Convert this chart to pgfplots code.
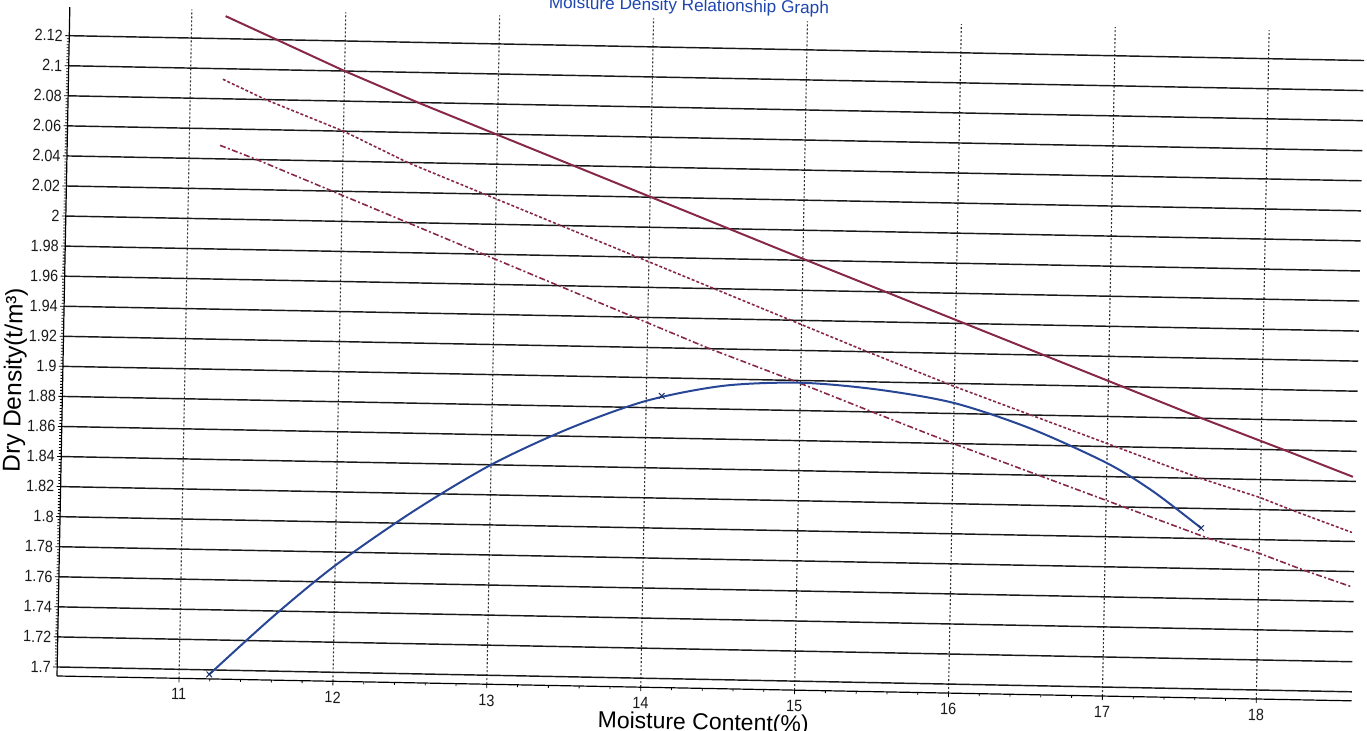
\documentclass[border=0pt]{standalone}
\usepackage{fontspec}
\setmainfont{Liberation Sans}
\newfontfamily\condfont[FakeStretch=0.88]{Liberation Sans}
\usepackage{pgfplots}
\pgfplotsset{compat=1.18}
\definecolor{zav}{RGB}{135,40,70}
\definecolor{mdd}{RGB}{40,70,150}
\definecolor{ttl}{RGB}{30,70,175}
\begin{document}
\begin{tikzpicture}
\begin{scope}[rotate=-1.1, transform shape]
\begin{axis}[
  scale only axis, width=647.5pt, height=334.5pt,
  at={(0,0)}, anchor=south west,
  xmin=10.207, xmax=18.62, ymin=1.694, ymax=2.139,
  axis lines*=left,
  clip=false,
  xtick={11,12,13,14,15,16,17,18},
  xticklabels={11,12,13,14,15,16,17,18},
  ytick={1.7,1.72,1.74,1.76,1.78,1.8,1.82,1.84,1.86,1.88,1.9,1.92,1.94,1.96,1.98,2,2.02,2.04,2.06,2.08,2.1,2.12},
  yticklabels={1.7,1.72,1.74,1.76,1.78,1.8,1.82,1.84,1.86,1.88,1.9,1.92,1.94,1.96,1.98,2,2.02,2.04,2.06,2.08,2.1,2.12},
  minor x tick num=4, minor y tick num=9,
  tick align=outside, major tick length=2pt, minor tick length=1.2pt,
  tick style={black, line width=0.4pt},
  axis line style={black, line width=0.6pt},
  xmajorgrids, ymajorgrids,
  x grid style={gray!40!black, line width=0.55pt, dash pattern=on 1pt off 1pt},
  y grid style={black!90, line width=0.72pt},
  ticklabel style={font=\condfont\fontsize{8.2}{9}\selectfont, text=black!90},
  yticklabel style={inner sep=1pt},
  xticklabel style={inner sep=1pt, yshift=-2pt},
  xlabel={Moisture Content(\%)},
  ylabel={Dry Density(t/m³)},
  xlabel style={font=\fontsize{11.5}{13}\selectfont, at={(axis description cs:0.4996,-0.062)}, anchor=base},
  ylabel style={font=\fontsize{12.2}{14}\selectfont, at={(axis description cs:-0.0368,0.441)}, anchor=center},
]
% Zero air voids (100%)
\addplot[zav, line width=1pt] coordinates {
(11.22,2.135) (11.555,2.12) (12,2.10) (12.48,2.08) (15,1.981) (17.61,1.88) (18.15,1.86) (18.6,1.843)};
% 90% saturation
\addplot[zav, line width=0.8pt, dash pattern=on 1.5pt off 1pt] coordinates {
(11.21,2.093) (11.49,2.08) (12,2.06) (12.42,2.04) (15.43,1.92) (16,1.898) (17.61,1.84) (18,1.828) (18.21,1.82) (18.6,1.806)};
% 80% saturation
\addplot[zav, line width=0.8pt, dash pattern=on 3pt off 1.2pt on 1pt off 1.2pt] coordinates {
(11.2,2.049) (11.44,2.04) (14.405,1.92) (14.95,1.90) (15.47,1.88) (16,1.86) (17.675,1.80) (18,1.791) (18.3,1.78) (18.6,1.770)};
% MDD curve
\addplot[mdd, line width=1pt, smooth] coordinates {
(11.196,1.697) (11.6,1.736) (12,1.771) (12.5,1.808) (13,1.840) (13.5,1.865) (14,1.8845) (14.5,1.8955) (15,1.8985) (15.5,1.895) (16,1.887) (16.5,1.871) (17,1.849) (17.3,1.831) (17.62,1.807)};
\addplot[only marks, mark=x, mark size=2pt, mdd!70!black, line width=0.5pt] coordinates {
(11.196,1.697) (14.1,1.888) (17.62,1.807)};
\node[anchor=base, font=\fontsize{8.6}{10}\selectfont, text=ttl] at (rel axis cs:0.478,1.012) {Moisture Density Relationship Graph};
\end{axis}
\end{scope}
\pgfresetboundingbox
\path[use as bounding box] (-28.5pt,-27.5pt) rectangle (655pt,338pt);
\end{tikzpicture}
\end{document}
